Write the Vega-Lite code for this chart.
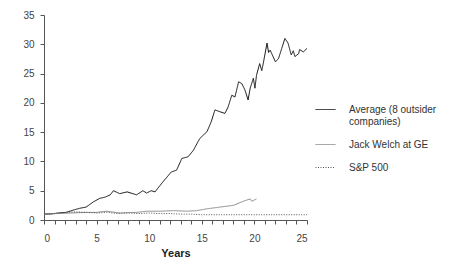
{
  "$schema": "https://vega.github.io/schema/vega-lite/v6.json",
  "width": 263,
  "height": 205,
  "autosize": "none",
  "padding": {"left": 44, "top": 15, "right": 154, "bottom": 59},
  "background": "white",
  "config": {
    "view": {"stroke": null},
    "font": "Liberation Sans",
    "axis": {"grid": false, "domainColor": "#555", "tickColor": "#555", "labelColor": "#444", "labelFontSize": 10, "tickSize": 4, "domainWidth": 1, "tickWidth": 1}
  },
  "data": {
    "values": [
      {"series": "Average (8 outsider|companies)", "year": 0, "value": 1.0},
      {"series": "Average (8 outsider|companies)", "year": 0.7, "value": 1.05},
      {"series": "Average (8 outsider|companies)", "year": 1.4, "value": 1.2},
      {"series": "Average (8 outsider|companies)", "year": 2.1, "value": 1.3},
      {"series": "Average (8 outsider|companies)", "year": 2.8, "value": 1.7},
      {"series": "Average (8 outsider|companies)", "year": 3.4, "value": 2.0},
      {"series": "Average (8 outsider|companies)", "year": 4.0, "value": 2.2},
      {"series": "Average (8 outsider|companies)", "year": 4.7, "value": 3.1},
      {"series": "Average (8 outsider|companies)", "year": 5.3, "value": 3.7},
      {"series": "Average (8 outsider|companies)", "year": 5.8, "value": 3.9},
      {"series": "Average (8 outsider|companies)", "year": 6.3, "value": 4.3},
      {"series": "Average (8 outsider|companies)", "year": 6.6, "value": 5.0},
      {"series": "Average (8 outsider|companies)", "year": 7.2, "value": 4.5},
      {"series": "Average (8 outsider|companies)", "year": 7.9, "value": 4.8},
      {"series": "Average (8 outsider|companies)", "year": 8.8, "value": 4.3},
      {"series": "Average (8 outsider|companies)", "year": 9.4, "value": 5.0},
      {"series": "Average (8 outsider|companies)", "year": 9.75, "value": 4.6},
      {"series": "Average (8 outsider|companies)", "year": 10.2, "value": 5.0},
      {"series": "Average (8 outsider|companies)", "year": 10.55, "value": 4.8},
      {"series": "Average (8 outsider|companies)", "year": 10.9, "value": 5.6},
      {"series": "Average (8 outsider|companies)", "year": 11.3, "value": 6.5},
      {"series": "Average (8 outsider|companies)", "year": 12.1, "value": 8.2},
      {"series": "Average (8 outsider|companies)", "year": 12.6, "value": 8.5},
      {"series": "Average (8 outsider|companies)", "year": 13.1, "value": 10.5},
      {"series": "Average (8 outsider|companies)", "year": 13.7, "value": 10.8},
      {"series": "Average (8 outsider|companies)", "year": 14.2, "value": 11.9},
      {"series": "Average (8 outsider|companies)", "year": 14.8, "value": 13.9},
      {"series": "Average (8 outsider|companies)", "year": 15.5, "value": 15.1},
      {"series": "Average (8 outsider|companies)", "year": 15.9, "value": 16.8},
      {"series": "Average (8 outsider|companies)", "year": 16.25, "value": 18.8},
      {"series": "Average (8 outsider|companies)", "year": 16.7, "value": 18.5},
      {"series": "Average (8 outsider|companies)", "year": 17.2, "value": 18.2},
      {"series": "Average (8 outsider|companies)", "year": 17.5, "value": 19.3},
      {"series": "Average (8 outsider|companies)", "year": 17.85, "value": 21.3},
      {"series": "Average (8 outsider|companies)", "year": 18.15, "value": 21.0},
      {"series": "Average (8 outsider|companies)", "year": 18.5, "value": 23.6},
      {"series": "Average (8 outsider|companies)", "year": 18.8, "value": 23.3},
      {"series": "Average (8 outsider|companies)", "year": 19.1, "value": 22.2},
      {"series": "Average (8 outsider|companies)", "year": 19.4, "value": 20.5},
      {"series": "Average (8 outsider|companies)", "year": 19.6, "value": 22.5},
      {"series": "Average (8 outsider|companies)", "year": 19.9, "value": 24.2},
      {"series": "Average (8 outsider|companies)", "year": 20.05, "value": 22.5},
      {"series": "Average (8 outsider|companies)", "year": 20.2, "value": 24.7},
      {"series": "Average (8 outsider|companies)", "year": 20.5, "value": 26.7},
      {"series": "Average (8 outsider|companies)", "year": 20.7, "value": 25.5},
      {"series": "Average (8 outsider|companies)", "year": 20.85, "value": 26.8},
      {"series": "Average (8 outsider|companies)", "year": 21.2, "value": 30.2},
      {"series": "Average (8 outsider|companies)", "year": 21.35, "value": 28.6},
      {"series": "Average (8 outsider|companies)", "year": 21.5, "value": 29.0},
      {"series": "Average (8 outsider|companies)", "year": 22.0, "value": 27.0},
      {"series": "Average (8 outsider|companies)", "year": 22.3, "value": 27.6},
      {"series": "Average (8 outsider|companies)", "year": 22.6, "value": 29.3},
      {"series": "Average (8 outsider|companies)", "year": 22.9, "value": 31.0},
      {"series": "Average (8 outsider|companies)", "year": 23.2, "value": 30.2},
      {"series": "Average (8 outsider|companies)", "year": 23.5, "value": 28.2},
      {"series": "Average (8 outsider|companies)", "year": 23.7, "value": 28.9},
      {"series": "Average (8 outsider|companies)", "year": 23.85, "value": 27.9},
      {"series": "Average (8 outsider|companies)", "year": 24.2, "value": 28.4},
      {"series": "Average (8 outsider|companies)", "year": 24.3, "value": 29.1},
      {"series": "Average (8 outsider|companies)", "year": 24.65, "value": 28.7},
      {"series": "Average (8 outsider|companies)", "year": 25.0, "value": 29.3},
      {"series": "Jack Welch at GE", "year": 0, "value": 1.0},
      {"series": "Jack Welch at GE", "year": 1.2, "value": 1.1},
      {"series": "Jack Welch at GE", "year": 2.5, "value": 1.2},
      {"series": "Jack Welch at GE", "year": 4.05, "value": 1.3},
      {"series": "Jack Welch at GE", "year": 5.0, "value": 1.3},
      {"series": "Jack Welch at GE", "year": 5.95, "value": 1.5},
      {"series": "Jack Welch at GE", "year": 7.2, "value": 1.2},
      {"series": "Jack Welch at GE", "year": 8.8, "value": 1.3},
      {"series": "Jack Welch at GE", "year": 9.75, "value": 1.5},
      {"series": "Jack Welch at GE", "year": 11.0, "value": 1.5},
      {"series": "Jack Welch at GE", "year": 12.3, "value": 1.6},
      {"series": "Jack Welch at GE", "year": 13.55, "value": 1.5},
      {"series": "Jack Welch at GE", "year": 14.5, "value": 1.6},
      {"series": "Jack Welch at GE", "year": 15.45, "value": 1.9},
      {"series": "Jack Welch at GE", "year": 16.7, "value": 2.2},
      {"series": "Jack Welch at GE", "year": 18.0, "value": 2.5},
      {"series": "Jack Welch at GE", "year": 18.95, "value": 3.2},
      {"series": "Jack Welch at GE", "year": 19.6, "value": 3.6},
      {"series": "Jack Welch at GE", "year": 19.75, "value": 3.2},
      {"series": "Jack Welch at GE", "year": 20.2, "value": 3.6},
      {"series": "S&P 500", "year": 0, "value": 1.0},
      {"series": "S&P 500", "year": 1, "value": 1.1},
      {"series": "S&P 500", "year": 2, "value": 1.3},
      {"series": "S&P 500", "year": 3, "value": 1.4},
      {"series": "S&P 500", "year": 4, "value": 1.3},
      {"series": "S&P 500", "year": 5, "value": 1.2},
      {"series": "S&P 500", "year": 6, "value": 1.3},
      {"series": "S&P 500", "year": 7, "value": 1.1},
      {"series": "S&P 500", "year": 8, "value": 1.2},
      {"series": "S&P 500", "year": 9, "value": 1.1},
      {"series": "S&P 500", "year": 10, "value": 1.2},
      {"series": "S&P 500", "year": 11, "value": 1.1},
      {"series": "S&P 500", "year": 12, "value": 1.1},
      {"series": "S&P 500", "year": 13, "value": 1.0},
      {"series": "S&P 500", "year": 14, "value": 1.0},
      {"series": "S&P 500", "year": 15, "value": 0.9},
      {"series": "S&P 500", "year": 20, "value": 0.9},
      {"series": "S&P 500", "year": 25, "value": 0.9}
    ]
  },
  "mark": {"type": "line", "strokeWidth": 1, "interpolate": "linear"},
  "encoding": {
    "x": {
      "field": "year", "type": "quantitative",
      "scale": {"domain": [0, 25], "nice": false},
      "axis": {
        "values": [0,1,2,3,4,5,6,7,8,9,10,11,12,13,14,15,16,17,18,19,20,21,22,23,24,25],
        "labelExpr": "datum.value % 5 === 0 ? datum.label : ''",
        "labelPadding": 9,
        "title": "Years", "titleFontSize": 11, "titleFontWeight": "bold", "titleColor": "#222", "titlePadding": 4
      }
    },
    "y": {
      "field": "value", "type": "quantitative",
      "scale": {"domain": [0, 35], "nice": false},
      "axis": {"values": [0,5,10,15,20,25,30,35], "title": null, "labelPadding": 6}
    },
    "color": {
      "field": "series", "type": "nominal",
      "scale": {"domain": ["Average (8 outsider|companies)", "Jack Welch at GE", "S&P 500"], "range": ["#111111", "#8a8a8a", "#555555"]},
      "legend": {
        "title": null, "orient": "none", "legendX": 271, "legendY": 84,
        "symbolType": "stroke", "symbolSize": 400, "symbolStrokeWidth": 1,
        "labelExpr": "split(datum.label, '|')",
        "labelFontSize": 10, "labelColor": "#333", "labelOffset": 13, "rowPadding": 7
      }
    },
    "strokeDash": {
      "field": "series", "type": "nominal",
      "scale": {"domain": ["Average (8 outsider|companies)", "Jack Welch at GE", "S&P 500"], "range": [[1, 0], [1, 0], [1, 1.5]]},
      "legend": null
    }
  }
}
